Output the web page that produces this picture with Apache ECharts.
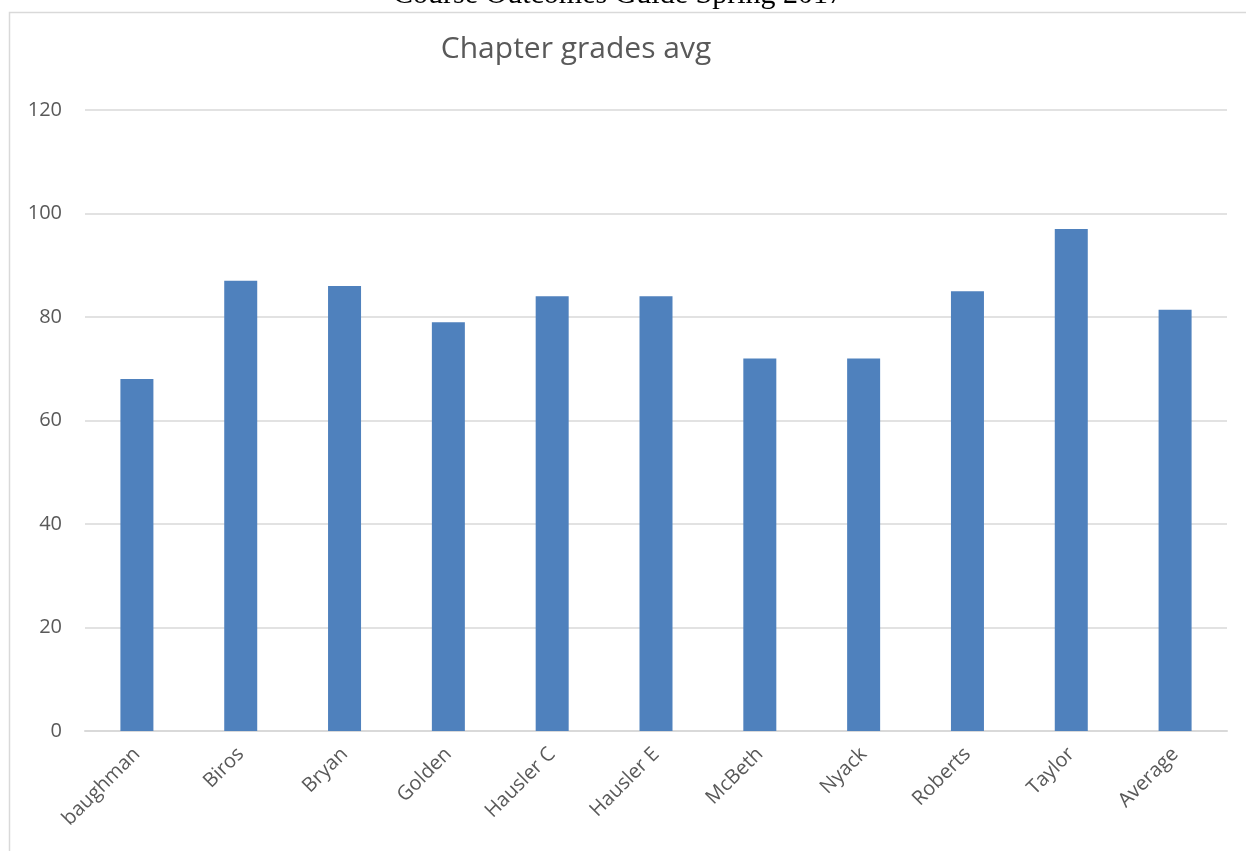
<!DOCTYPE html>
<html><head><meta charset="utf-8">
<script src="https://cdn.jsdelivr.net/npm/echarts@6/dist/echarts.min.js"></script>
<style>html,body{margin:0;padding:0;background:#fff;}#c{width:1246px;height:851px;}</style>
</head><body><div id="c"></div>
<script>
const categories = ['baughman','Biros','Bryan','Golden','Hausler C','Hausler E','McBeth','Nyack','Roberts','Taylor','Average'];
const values = [68, 87, 86, 79, 84, 84, 72, 72, 85, 97, 81.4];
const yTicks = [0, 20, 40, 60, 80, 100, 120];

const chart = echarts.init(document.getElementById('c'));
chart.setOption({
  animation: false,
  backgroundColor: '#fff',
  graphic: [
    {type:'rect', shape:{x:9.5, y:12.5, width:1300, height:900}, style:{fill:'none', stroke:'#d9d9d9', lineWidth:1.5}},
    {type:'text', x:618, y:-20, style:{text:'Course Outcomes Guide Spring 2017', font:'30px "Liberation Serif"', fill:'#000', align:'center', verticalAlign:'top'}}
  ],
  title: {text:'Chapter grades avg', left:571, textAlign:'center', top:29,
    textStyle:{fontFamily:'Open Sans', fontSize:30, fontWeight:'normal', color:'#595959'}},
  grid: {left:85, right:19, top:110, bottom:120, containLabel:false},
  xAxis: {type:'category', data:categories,
    axisLine:{lineStyle:{color:'#d9d9d9', width:2}}, axisTick:{show:false},
    axisLabel:{rotate:45, interval:0, color:'#595959', fontFamily:'Open Sans', fontSize:20, margin:20}},
  yAxis: {type:'value', min:0, max:120, interval:20,
    axisLine:{show:false}, axisTick:{show:false},
    splitLine:{lineStyle:{color:'#d9d9d9', width:1.5}},
    axisLabel:{color:'#595959', fontFamily:'Open Sans', fontSize:20, margin:23,
      formatter: v => yTicks.includes(v) ? String(v) : ''}},
  series: [{type:'bar', data:values, barWidth:33, itemStyle:{color:'#4f81bd'}}]
});
</script></body></html>
